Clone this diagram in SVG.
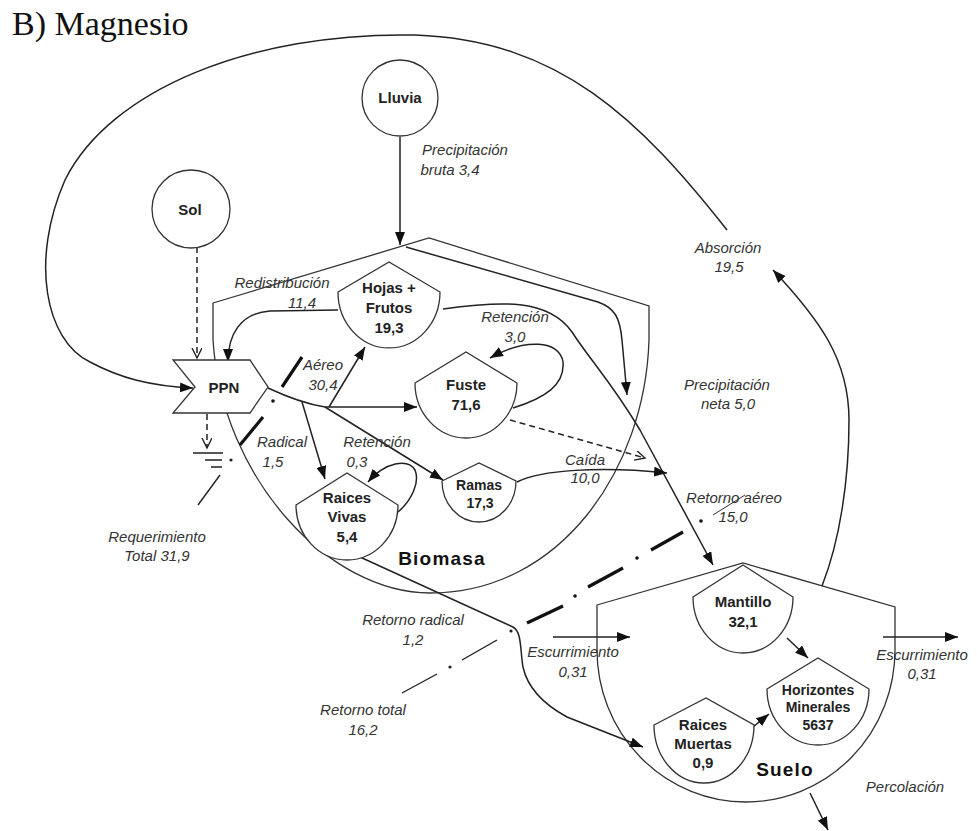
<svg xmlns="http://www.w3.org/2000/svg" width="977" height="831" viewBox="0 0 977 831">
<defs>
<style>
.t{font-family:"Liberation Sans",Arial,sans-serif;text-anchor:middle}
.lbl{font-style:italic;font-size:15px;fill:#333}
.nd{font-weight:bold;font-size:15px;fill:#222}
.sm{font-size:14px}
.big{font-weight:bold;font-size:19px;letter-spacing:1.2px;fill:#111}
.shape{fill:#fff;stroke:#333;stroke-width:1.3}
.outline{fill:none;stroke:#333;stroke-width:1.3}
.c{fill:none;stroke:#222;stroke-width:1.5}
.a{marker-end:url(#arr)}
.dsh{stroke-dasharray:6 4}
.o{marker-end:url(#open)}
.thick{stroke:#111;stroke-width:3.2;fill:none}
.thin{stroke:#222;stroke-width:1.4;fill:none}
</style>
<marker id="arr" markerUnits="userSpaceOnUse" markerWidth="14" markerHeight="10" refX="13" refY="5" orient="auto">
<path d="M0,0 L13,5 L0,10 Z" fill="#111"/>
</marker>
<marker id="open" markerUnits="userSpaceOnUse" markerWidth="12" markerHeight="12" refX="10" refY="5" orient="auto">
<path d="M0,0 L10,5 L0,10" fill="none" stroke="#222" stroke-width="1.4"/>
</marker>
</defs>
<rect width="977" height="831" fill="#fff"/>
<text x="12" y="35" font-family="Liberation Serif,'Times New Roman',serif" font-size="34" fill="#111">B) Magnesio</text>

<g id="biomasa">
<path class="outline" d="M213,303 L429,238 L649,306 L649,340 C645,470 560,593 430,593 C330,593 222,480 213,340 Z"/>
<text class="t big" x="442" y="565">Biomasa</text>
</g>
<g id="suelo">
<path class="outline" d="M597,605 L743,563 L895,607 L895,650 A149,152 0 0 1 597,650 Z"/>
<text class="t big" x="785" y="776">Suelo</text>
</g>

<g id="connectors">
<path class="c a" d="M727,230 C640,120 560,40 415,35 C250,32 110,90 65,180 C30,260 45,340 90,362 C120,378 150,386 193,388"/>
<path class="c a" d="M822,586 C840,540 849,480 849,420 C849,360 820,320 773,270"/>
<path class="c a" d="M400,137 L400,245"/>
<path class="c dsh o" d="M197,247 L197,358"/>
<path class="c dsh o" d="M207,414 L207,448"/>
<path class="c a" d="M406,247 L598,302 C615,308 620,318 622,340 L627,395"/>
<path class="c a" d="M443,309 C500,301 548,298 572,332 C590,360 610,380 640,430 L713,565"/>
<path class="c a" d="M338,310 L270,311 C240,313 228,335 228,362"/>
<path class="c a" d="M513,408 C545,398 565,385 563,362 C560,340 525,338 490,358"/>
<path class="c a" d="M398,512 C412,500 420,482 415,470 C408,458 385,462 368,482"/>
<path class="c" d="M268,388 Q300,403 325,407"/>
<path class="c a" d="M325,407 L417,407"/>
<path class="c a" d="M329,407 L365,347"/>
<path class="c a" d="M325,407 L443,480"/>
<path class="c a" d="M302,402 L325,479"/>
<path class="c a" d="M517,482 C540,470 600,466 667,473"/>
<path class="c dsh o" d="M510,420 L645,458"/>
<path class="c a" d="M360,557 L513,627 C522,632 520,650 523,667 C528,690 545,705 567,717 L643,747"/>
<path class="c a" d="M787,638 L808,658"/>
<path class="c a" d="M753,727 L769,714"/>
<path class="c a" d="M553,637 L630,637"/>
<path class="c a" d="M883,637 L958,637"/>
<path class="c a" d="M810,793 L828,830"/>
<g id="ground">
<path class="thin" d="M193,453 L223,453 M205,460 L222,460 M211,467 L222,467"/>
</g>
<g id="requerimiento-line">
<path class="thin" d="M198,505 L220,475"/>
<circle cx="231" cy="460" r="1.6" fill="#222"/>
<path class="thick" d="M240,445 L263,417"/>
<circle cx="273" cy="401" r="1.8" fill="#111"/>
<path class="thick" d="M282,387 L302,357"/>
</g>
<g id="retorno-total-line">
<path class="thin" d="M402,693 L437,674"/>
<circle cx="450" cy="667" r="1.6" fill="#222"/>
<path class="thin" d="M462,660 L497,640"/>
<circle cx="511" cy="631" r="1.6" fill="#222"/>
<path class="thick" d="M527,623 L563,606"/>
<circle cx="575" cy="596" r="1.8" fill="#111"/>
<path class="thick" d="M588,587 L623,568"/>
<circle cx="637" cy="558" r="1.8" fill="#111"/>
<path class="thick" d="M651,550 L683,532"/>
<circle cx="701" cy="521" r="1.8" fill="#111"/>
<path d="M713,515 L745,495" stroke="#333" stroke-width="1" fill="none"/>
</g>
</g>

<g id="sol">
<circle class="shape" cx="191" cy="209" r="39"/>
<text class="t nd" x="190" y="215">Sol</text>
</g>
<g id="lluvia">
<circle class="shape" cx="400" cy="98" r="38"/>
<text class="t nd" x="400" y="103">Lluvia</text>
</g>
<g id="ppn">
<path class="shape" d="M173,360 L250,360 L268,387 L250,413 L173,413 L195,387 Z"/>
<text class="t nd" x="224" y="393">PPN</text>
</g>
<g id="hojas">
<path class="shape" d="M338,292 L389,262 L440,292 A51,56 0 0 1 338,292 Z"/>
<text class="t nd" x="389" y="293">Hojas +</text>
<text class="t nd" x="389" y="313">Frutos</text>
<text class="t nd" x="389" y="333">19,3</text>
</g>
<g id="fuste">
<path class="shape" d="M415,383 L466,352 L517,383 A51,55 0 0 1 415,383 Z"/>
<text class="t nd" x="466" y="390">Fuste</text>
<text class="t nd" x="466" y="410">71,6</text>
</g>
<g id="raices-vivas">
<path class="shape" d="M296,505 L347,473 L398,505 A51,55 0 0 1 296,505 Z"/>
<text class="t nd" x="347" y="503">Raices</text>
<text class="t nd" x="347" y="522">Vivas</text>
<text class="t nd" x="347" y="542">5,4</text>
</g>
<g id="ramas">
<path class="shape" d="M442,481 L479,463 L516,481 A37,41 0 0 1 442,481 Z"/>
<text class="t nd sm" x="479" y="490">Ramas</text>
<text class="t nd sm" x="480" y="508">17,3</text>
</g>
<g id="mantillo">
<path class="shape" d="M693,597 L743,565 L793,597 A50,56 0 0 1 693,597 Z"/>
<text class="t nd" x="743" y="607">Mantillo</text>
<text class="t nd" x="743" y="627">32,1</text>
</g>
<g id="horizontes">
<path class="shape" d="M767,689 L818,658 L869,689 A51,56 0 0 1 767,689 Z"/>
<text class="t nd sm" x="818" y="695">Horizontes</text>
<text class="t nd sm" x="818" y="712">Minerales</text>
<text class="t nd sm" x="818" y="730">5637</text>
</g>
<g id="raices-muertas">
<path class="shape" d="M654,725 L706,698 L754,725 A50,58 0 0 1 654,725 Z"/>
<text class="t nd" x="703" y="730">Raices</text>
<text class="t nd" x="703" y="749">Muertas</text>
<text class="t nd" x="703" y="768">0,9</text>
</g>

<g id="labels">
<text class="t lbl" x="465" y="155">Precipitación</text>
<text class="t lbl" x="450" y="175">bruta 3,4</text>
<text class="t lbl" x="282" y="288">Redistribución</text>
<text class="t lbl" x="302" y="308">11,4</text>
<text class="t lbl" x="515" y="322">Retención</text>
<text class="t lbl" x="515" y="342">3,0</text>
<text class="t lbl" x="323" y="370">Aéreo</text>
<text class="t lbl" x="323" y="390">30,4</text>
<text class="t lbl" x="282" y="447">Radical</text>
<text class="t lbl" x="273" y="467">1,5</text>
<text class="t lbl" x="377" y="447">Retención</text>
<text class="t lbl" x="357" y="467">0,3</text>
<text class="t lbl" x="585" y="465">Caída</text>
<text class="t lbl" x="585" y="483">10,0</text>
<text class="t lbl" x="727" y="390">Precipitación</text>
<text class="t lbl" x="728" y="409">neta 5,0</text>
<text class="t lbl" x="728" y="253">Absorción</text>
<text class="t lbl" x="729" y="272">19,5</text>
<text class="t lbl" x="734" y="503">Retorno aéreo</text>
<text class="t lbl" x="733" y="522">15,0</text>
<text class="t lbl" x="157" y="542">Requerimiento</text>
<text class="t lbl" x="157" y="561">Total 31,9</text>
<text class="t lbl" x="413" y="625">Retorno radical</text>
<text class="t lbl" x="413" y="645">1,2</text>
<text class="t lbl" x="363" y="715">Retorno total</text>
<text class="t lbl" x="363" y="735">16,2</text>
<text class="t lbl" x="573" y="657">Escurrimiento</text>
<text class="t lbl" x="573" y="677">0,31</text>
<text class="t lbl" x="922" y="660">Escurrimiento</text>
<text class="t lbl" x="922" y="679">0,31</text>
<text class="t lbl" x="905" y="792">Percolación</text>
</g>
</svg>
